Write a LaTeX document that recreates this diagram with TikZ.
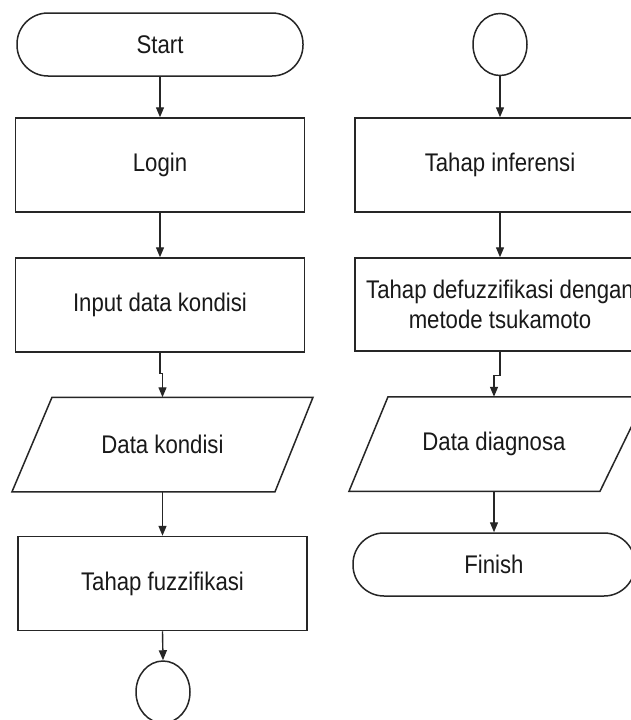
\documentclass[tikz,border=0pt]{standalone}
\usepackage{fontspec}
\setmainfont[FakeStretch=0.87]{Liberation Sans}
\usetikzlibrary{arrows.meta,shapes.geometric}
\definecolor{ln}{HTML}{262626}
\tikzset{
  base/.style={draw=ln, line width=1.5pt, text=black!90, font=\fontsize{25.5}{30}\selectfont, align=center, inner sep=0pt},
  proc/.style={base, rectangle, minimum width=289pt, minimum height=94pt},
  term/.style={base, rectangle, rounded corners=31pt, minimum height=63pt},
  conn/.style={base, ellipse, minimum width=54pt, minimum height=62pt},
  io/.style={base, draw=none, minimum width=200pt, minimum height=93pt},
  flow/.style={draw=ln, line width=1.4pt, -{Triangle[length=10pt,width=8pt]}},
}
\begin{document}
\begin{tikzpicture}[x=1pt,y=-1pt]
\useasboundingbox (0,0) rectangle (631,720);
\clip (0,0) rectangle (631,720);
\fill[white] (0,0) rectangle (631,720);
% left column
\node[term, minimum width=286pt] (start) at (160,44.5) {Start};
\node[proc] (login) at (160,165) {Login};
\node[proc] (input) at (160,305) {Input data kondisi};
\node[io] (dk) at (162.5,444.5) {Data kondisi};
\draw[draw=ln, line width=1.5pt] ([xshift=-110.5pt]dk.north) -- ([xshift=150.5pt]dk.north) -- ([xshift=112.5pt]dk.south) -- ([xshift=-150.5pt]dk.south) -- cycle;
\node[proc] (fuzz) at (162.5,583.5) {Tahap fuzzifikasi};
\node[conn] (c1) at (163,692) {};
% right column
\node[conn] (c2) at (500,44.5) {};
\node[proc, minimum width=290pt] (inf) at (500,165) {Tahap inferensi};
\node[proc, minimum width=290pt, minimum height=93pt] (defuzz) at (500,304.5) {Tahap defuzzifikasi dengan\\metode tsukamoto};
\node[io] (dd) at (494,444) {Data diagnosa};
\draw[draw=ln, line width=1.5pt] ([xshift=-106pt]dd.north) -- ([xshift=152pt]dd.north) -- ([xshift=106pt]dd.south) -- ([xshift=-145pt]dd.south) -- cycle;
\node[term, minimum width=282pt] (finish) at (494,564.5) {Finish};
% connectors
\draw[flow] (start) -- (login);
\draw[flow] (login) -- (input);
\draw[flow] (input.south) -- ++(0,21) -| (dk.north);
\draw[flow] (dk.south) -- (fuzz.north);
\draw[flow] (fuzz.south) -- (c1.north);
\draw[flow] (c2.south) -- (inf.north);
\draw[flow] (inf.south) -- (defuzz.north);
\draw[flow] (defuzz.south) -- ++(0,24) -| (dd.north);
\draw[flow] (dd.south) -- (finish.north);
\end{tikzpicture}
\end{document}
